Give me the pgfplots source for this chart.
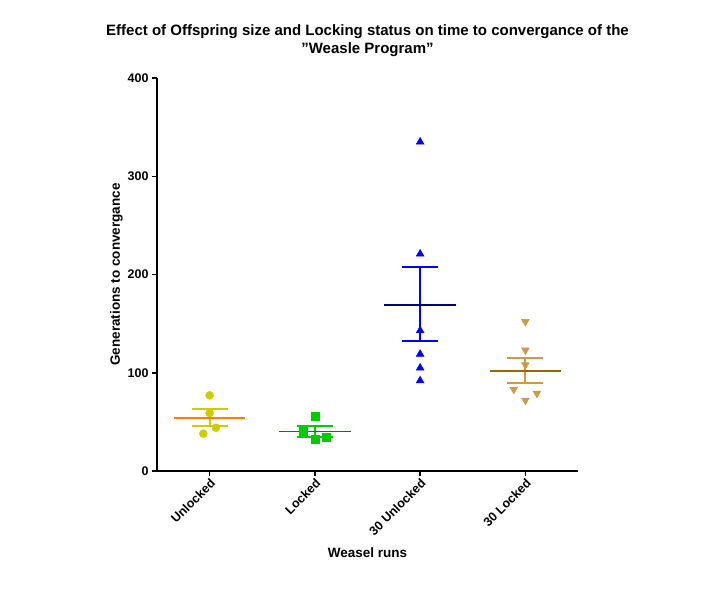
\documentclass[border=0pt]{standalone}
\usepackage{pgfplots}
\pgfplotsset{compat=1.18}
\usepackage{fontspec}
\setmainfont{Liberation Sans}
\definecolor{cU}{RGB}{204,204,0}
\definecolor{cUm}{RGB}{255,128,0}
\definecolor{cL}{RGB}{0,204,0}
\definecolor{cLm}{RGB}{0,128,0}
\definecolor{c3U}{RGB}{0,0,255}
\definecolor{c3Um}{RGB}{0,0,128}
\definecolor{c3L}{RGB}{204,153,68}
\definecolor{c3Lm}{RGB}{153,102,0}
\begin{document}
\begin{tikzpicture}[x=1pt,y=1pt]
\useasboundingbox (-157,-121) rectangle (544,471);
\begin{axis}[at={(0,0)},anchor=south west,scale only axis,width=421pt,height=393pt,
 xmin=-0.5,xmax=3.5,ymin=0,ymax=400,
 axis x line*=bottom, axis y line*=left, axis line style={line width=1.5pt,-},
 xtick={0,1,2,3}, xticklabels={Unlocked,Locked,30 Unlocked,30 Locked},
 ytick={0,100,200,300,400}, tick style={line width=1.5pt,black}, tick align=outside, major tick length=5pt,
 xticklabel style={rotate=45,anchor=north east,font=\fontsize{12.5}{14}\selectfont\bfseries,inner sep=1pt},
 yticklabel style={font=\fontsize{12.5}{14}\selectfont\bfseries},
 /pgf/number format/assume math mode=true,
 xlabel={\bfseries Weasel runs}, ylabel={\bfseries Generations to convergance},
 label style={font=\fontsize{13.5}{15}\selectfont},
 xlabel style={yshift=-6pt},
 ylabel style={yshift=-2pt},
 title style={font=\fontsize{15}{18}\selectfont\bfseries,align=center,yshift=12pt},
 title={Effect of Offspring size and Locking status on time to convergance of the\\{\char34}Weasle Program{\char34}},
 clip=false]
% Unlocked
\addplot[only marks,mark=*,mark size=4pt,color=cU] coordinates {(0,77)(0,59)(0.06,44)(-0.06,38)};
\addplot[cU,line width=2pt] coordinates {(-0.17,63)(0.17,63)};
\addplot[cU,line width=2pt] coordinates {(-0.17,46)(0.17,46)};
\addplot[cU,line width=2pt] coordinates {(0,46)(0,63)};
\addplot[cUm,line width=1.5pt] coordinates {(-0.34,54)(0.34,54)};
% Locked
\addplot[only marks,mark=square*,mark size=4pt,color=cL] coordinates {(1,56)(0.89,43)(1,32)(1.11,34)(0.89,38)};
\addplot[cL,line width=2pt] coordinates {(0.83,46)(1.17,46)};
\addplot[cL,line width=2pt] coordinates {(0.83,35)(1.17,35)};
\addplot[cL,line width=2pt] coordinates {(1,35)(1,46)};
\addplot[cLm,line width=1.5pt] coordinates {(0.66,40)(1.34,40)};
% 30 Unlocked
\addplot[only marks,mark=triangle*,mark size=4.5pt,color=c3U] coordinates {(2,335)(2,221)(2,143)(2,119)(2,105)(2,92)};
\addplot[c3U,line width=2pt] coordinates {(1.83,208)(2.17,208)};
\addplot[c3U,line width=2pt] coordinates {(1.83,132)(2.17,132)};
\addplot[c3U,line width=2pt] coordinates {(2,132)(2,208)};
\addplot[c3Um,line width=1.5pt] coordinates {(1.66,169)(2.34,169)};
% 30 Locked
\addplot[only marks,mark=triangle*,mark options={rotate=180},mark size=4.5pt,color=c3L] coordinates {(3,152)(3,123)(3,108)(2.89,83)(3.11,79)(3,72)};
\addplot[c3L,line width=2pt] coordinates {(2.83,115)(3.17,115)};
\addplot[c3L,line width=2pt] coordinates {(2.83,90)(3.17,90)};
\addplot[c3L,line width=2pt] coordinates {(3,90)(3,115)};
\addplot[c3Lm,line width=1.5pt] coordinates {(2.66,102)(3.34,102)};
\end{axis}
\end{tikzpicture}
\end{document}
